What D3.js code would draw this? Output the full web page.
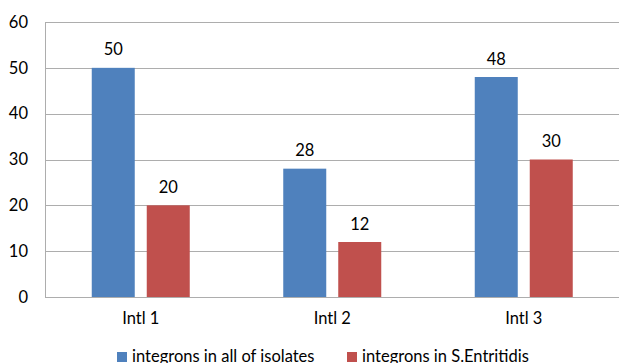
<!DOCTYPE html>
<html>
<head>
<meta charset="utf-8">
<script src="https://cdn.jsdelivr.net/npm/d3@7"></script>
<style>
html,body{margin:0;padding:0;background:#fff;}
svg{display:block;}
text{font-family:Lato,"Open Sans",sans-serif;fill:#000;}
</style>
</head>
<body>
<svg id="chart" width="619" height="363"></svg>
<script>
const categories = ["Intl 1", "Intl 2", "Intl 3"];
const seriesNames = ["integrons in all of isolates", "integrons in S.Entritidis"];
const seriesAll = [50, 28, 48];
const seriesSE = [20, 12, 30];
const yTicks = [0, 10, 20, 30, 40, 50, 60];
const colors = ["#4F81BD", "#C0504D"];
const fs = 16.5;

const svg = d3.select("#chart");
const mLeft = 45, mRight = 619.5, mTop = 22, mBottom = 297;

const x0 = d3.scaleBand().domain(categories).range([mLeft, mRight]).paddingInner(0).paddingOuter(0);
const x1 = d3.scaleBand().domain([0, 1]).range([0, x0.bandwidth()]).paddingInner(12/55).paddingOuter(0.85);
const y = d3.scaleLinear().domain([0, 60]).range([mBottom, mTop]);

// gridlines
svg.append("g").selectAll("line").data(yTicks).join("line")
  .attr("x1", mLeft).attr("x2", mRight)
  .attr("y1", d => Math.round(y(d)) + 0.5).attr("y2", d => Math.round(y(d)) + 0.5)
  .attr("stroke", "#ADADAD").attr("stroke-width", 1);

// left axis line
svg.append("line")
  .attr("x1", mLeft + 0.5).attr("x2", mLeft + 0.5)
  .attr("y1", y(60)).attr("y2", y(0) + 0.5)
  .attr("stroke", "#ADADAD");

// y axis labels
const yAxis = d3.axisLeft(y).tickValues(yTicks).tickSize(0).tickPadding(0);
const gy = svg.append("g").attr("transform", `translate(${mLeft - 17},0)`).call(yAxis);
gy.select(".domain").remove();
gy.selectAll("text").attr("font-size", fs).attr("font-family", "Lato, 'Open Sans', sans-serif").attr("fill", "#000");

// x axis labels
const xAxis = d3.axisBottom(x0).tickSize(0).tickPadding(0);
const gx = svg.append("g").attr("transform", `translate(0,${mBottom + 15})`).call(xAxis);
gx.select(".domain").remove();
gx.selectAll("text").attr("font-size", fs).attr("font-family", "Lato, 'Open Sans', sans-serif").attr("fill", "#000");

const data = categories.map((c, i) => ({cat: c, vals: [seriesAll[i], seriesSE[i]]}));

const groups = svg.append("g").selectAll("g").data(data).join("g")
  .attr("transform", d => `translate(${x0(d.cat)},0)`);

groups.selectAll("rect").data(d => d.vals.map((v, s) => ({v, s}))).join("rect")
  .attr("x", d => x1(d.s))
  .attr("width", x1.bandwidth())
  .attr("y", d => y(d.v))
  .attr("height", d => y(0) - y(d.v))
  .attr("fill", d => colors[d.s]);

groups.selectAll("text.val").data(d => d.vals.map((v, s) => ({v, s}))).join("text")
  .attr("class", "val")
  .attr("x", d => x1(d.s) + x1.bandwidth() / 2)
  .attr("y", d => y(d.v) - 12.5)
  .attr("text-anchor", "middle")
  .attr("font-size", fs)
  .text(d => d.v);

// legend
const legendItems = [{x: 117, s: 0}, {x: 347, s: 1}];
const lg = svg.append("g");
legendItems.forEach(it => {
  lg.append("rect").attr("x", it.x).attr("y", 352).attr("width", 10).attr("height", 10).attr("fill", colors[it.s]);
  lg.append("text").attr("x", it.x + 15).attr("y", 362).attr("font-size", fs).text(seriesNames[it.s]);
});
</script>
</body>
</html>
